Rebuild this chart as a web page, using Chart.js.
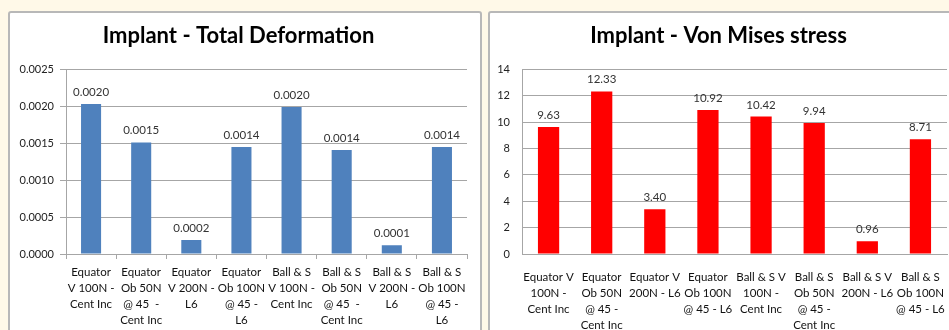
<!DOCTYPE html>
<html>
<head>
<meta charset="utf-8">
<script src="https://cdn.jsdelivr.net/npm/chart.js@4.4.1/dist/chart.umd.min.js"></script>
<style>
  html, body { margin: 0; padding: 0; }
  body { width: 949px; height: 330px; overflow: hidden; background: #fff9e8; position: relative; }
  .panel { position: absolute; top: 11px; background: #fff; border: 2px solid #b8b8b8; border-radius: 3px; }
  #leftPanel { left: 8px; width: 470px; height: 330px; }
  #rightPanel { left: 488px; width: 468px; height: 330px; }
  .panel canvas { display: block; }
</style>
</head>
<body>
<div class="panel" id="leftPanel"><canvas id="deformation" width="470" height="320"></canvas></div>
<div class="panel" id="rightPanel"><canvas id="stress" width="468" height="320"></canvas></div>
<script>
const deformationLabels = [
    ['Equator', 'V 100N -', 'Cent Inc'],
    ['Equator', 'Ob 50N', '@ 45  -', 'Cent Inc'],
    ['Equator', 'V 200N -', 'L6'],
    ['Equator', 'Ob 100N', '@ 45 -', 'L6'],
    ['Ball & S', 'V 100N -', 'Cent Inc'],
    ['Ball & S', 'Ob 50N', '@ 45  -', 'Cent Inc'],
    ['Ball & S', 'V 200N -', 'L6'],
    ['Ball & S', 'Ob 100N', '@ 45 -', 'L6']
];
const deformationValues = [0.00203, 0.00151, 0.00019, 0.00145, 0.00199, 0.00141, 0.00012, 0.00145];

const stressLabels = [
    ['Equator V', '100N -', 'Cent Inc'],
    ['Equator', 'Ob 50N', '@ 45 -', 'Cent Inc'],
    ['Equator V', '200N - L6'],
    ['Equator', 'Ob 100N', '@ 45 - L6'],
    ['Ball & S V', '100N -', 'Cent Inc'],
    ['Ball & S', 'Ob 50N', '@ 45 -', 'Cent Inc'],
    ['Ball & S V', '200N - L6'],
    ['Ball & S', 'Ob 100N', '@ 45 - L6']
];
const stressValues = [9.63, 12.33, 3.40, 10.92, 10.42, 9.94, 0.96, 8.71];

const FONT = 'Lato, "Open Sans", sans-serif';
const GRID = '#a6a6a6';

// value labels above every bar
const barValues = {
    id: 'barValues',
    afterDatasetsDraw(chart, args, opts) {
        const ctx = chart.ctx;
        const meta = chart.getDatasetMeta(0);
        ctx.save();
        ctx.font = '11.5px ' + FONT;
        ctx.fillStyle = '#333';
        ctx.textAlign = 'center';
        ctx.textBaseline = 'bottom';
        meta.data.forEach((bar, i) => {
            const v = chart.data.datasets[0].data[i];
            ctx.fillText(v.toFixed(opts.decimals), bar.x, bar.y - 6);
        });
        ctx.restore();
    }
};

function createBarChart({ canvasId, title, labels, values, color, max, step, decimals, yWidth, xTicks, padRight }) {
    const ctx = document.getElementById(canvasId).getContext('2d');
    return new Chart(ctx, {
        type: 'bar',
        data: {
            labels: labels,
            datasets: [{
                data: values,
                backgroundColor: color,
                borderWidth: 0,
                categoryPercentage: 1,
                barPercentage: 0.4
            }]
        },
        options: {
            responsive: false,
            animation: false,
            layout: { padding: { top: 0, right: padRight, bottom: 0, left: 0 } },
            plugins: {
                legend: { display: false },
                tooltip: { enabled: false },
                title: {
                    display: true,
                    text: title,
                    color: '#000',
                    font: { family: FONT, size: 22, weight: 'bold' },
                    padding: { top: 10, bottom: 20 }
                },
                barValues: { decimals: decimals }
            },
            scales: {
                x: {
                    afterFit(scale) { scale.height = 79; },
                    grid: {
                        display: xTicks,
                        offset: true,
                        drawOnChartArea: false,
                        drawTicks: true,
                        tickLength: 5,
                        color: GRID
                    },
                    border: { display: true, color: GRID, width: 1 },
                    ticks: {
                        maxRotation: 0,
                        autoSkip: false,
                        color: '#111',
                        padding: xTicks ? 5 : 10,
                        font: { family: FONT, size: 11.5, lineHeight: '16px' }
                    }
                },
                y: {
                    min: 0,
                    max: max,
                    afterFit(scale) { scale.width = yWidth; },
                    grid: {
                        color: GRID,
                        drawTicks: xTicks,
                        tickLength: 6
                    },
                    border: { display: true, color: GRID, width: 1 },
                    ticks: {
                        stepSize: step,
                        color: '#222',
                        padding: xTicks ? 6 : 12,
                        font: { family: FONT, size: 11 },
                        callback: v => v.toFixed(decimals === 4 ? 4 : 0)
                    }
                }
            }
        },
        plugins: [barValues]
    });
}

createBarChart({
    canvasId: 'deformation',
    title: 'Implant - Total Deformation',
    labels: deformationLabels,
    values: deformationValues,
    color: '#4f81bd',
    max: 0.0025,
    step: 0.0005,
    decimals: 4,
    yWidth: 56,
    xTicks: true,
    padRight: 13
});

createBarChart({
    canvasId: 'stress',
    title: 'Implant - Von Mises stress',
    labels: stressLabels,
    values: stressValues,
    color: '#ff0000',
    max: 14,
    step: 2,
    decimals: 2,
    yWidth: 32,
    xTicks: false,
    padRight: 11
});
</script>
</body>
</html>
